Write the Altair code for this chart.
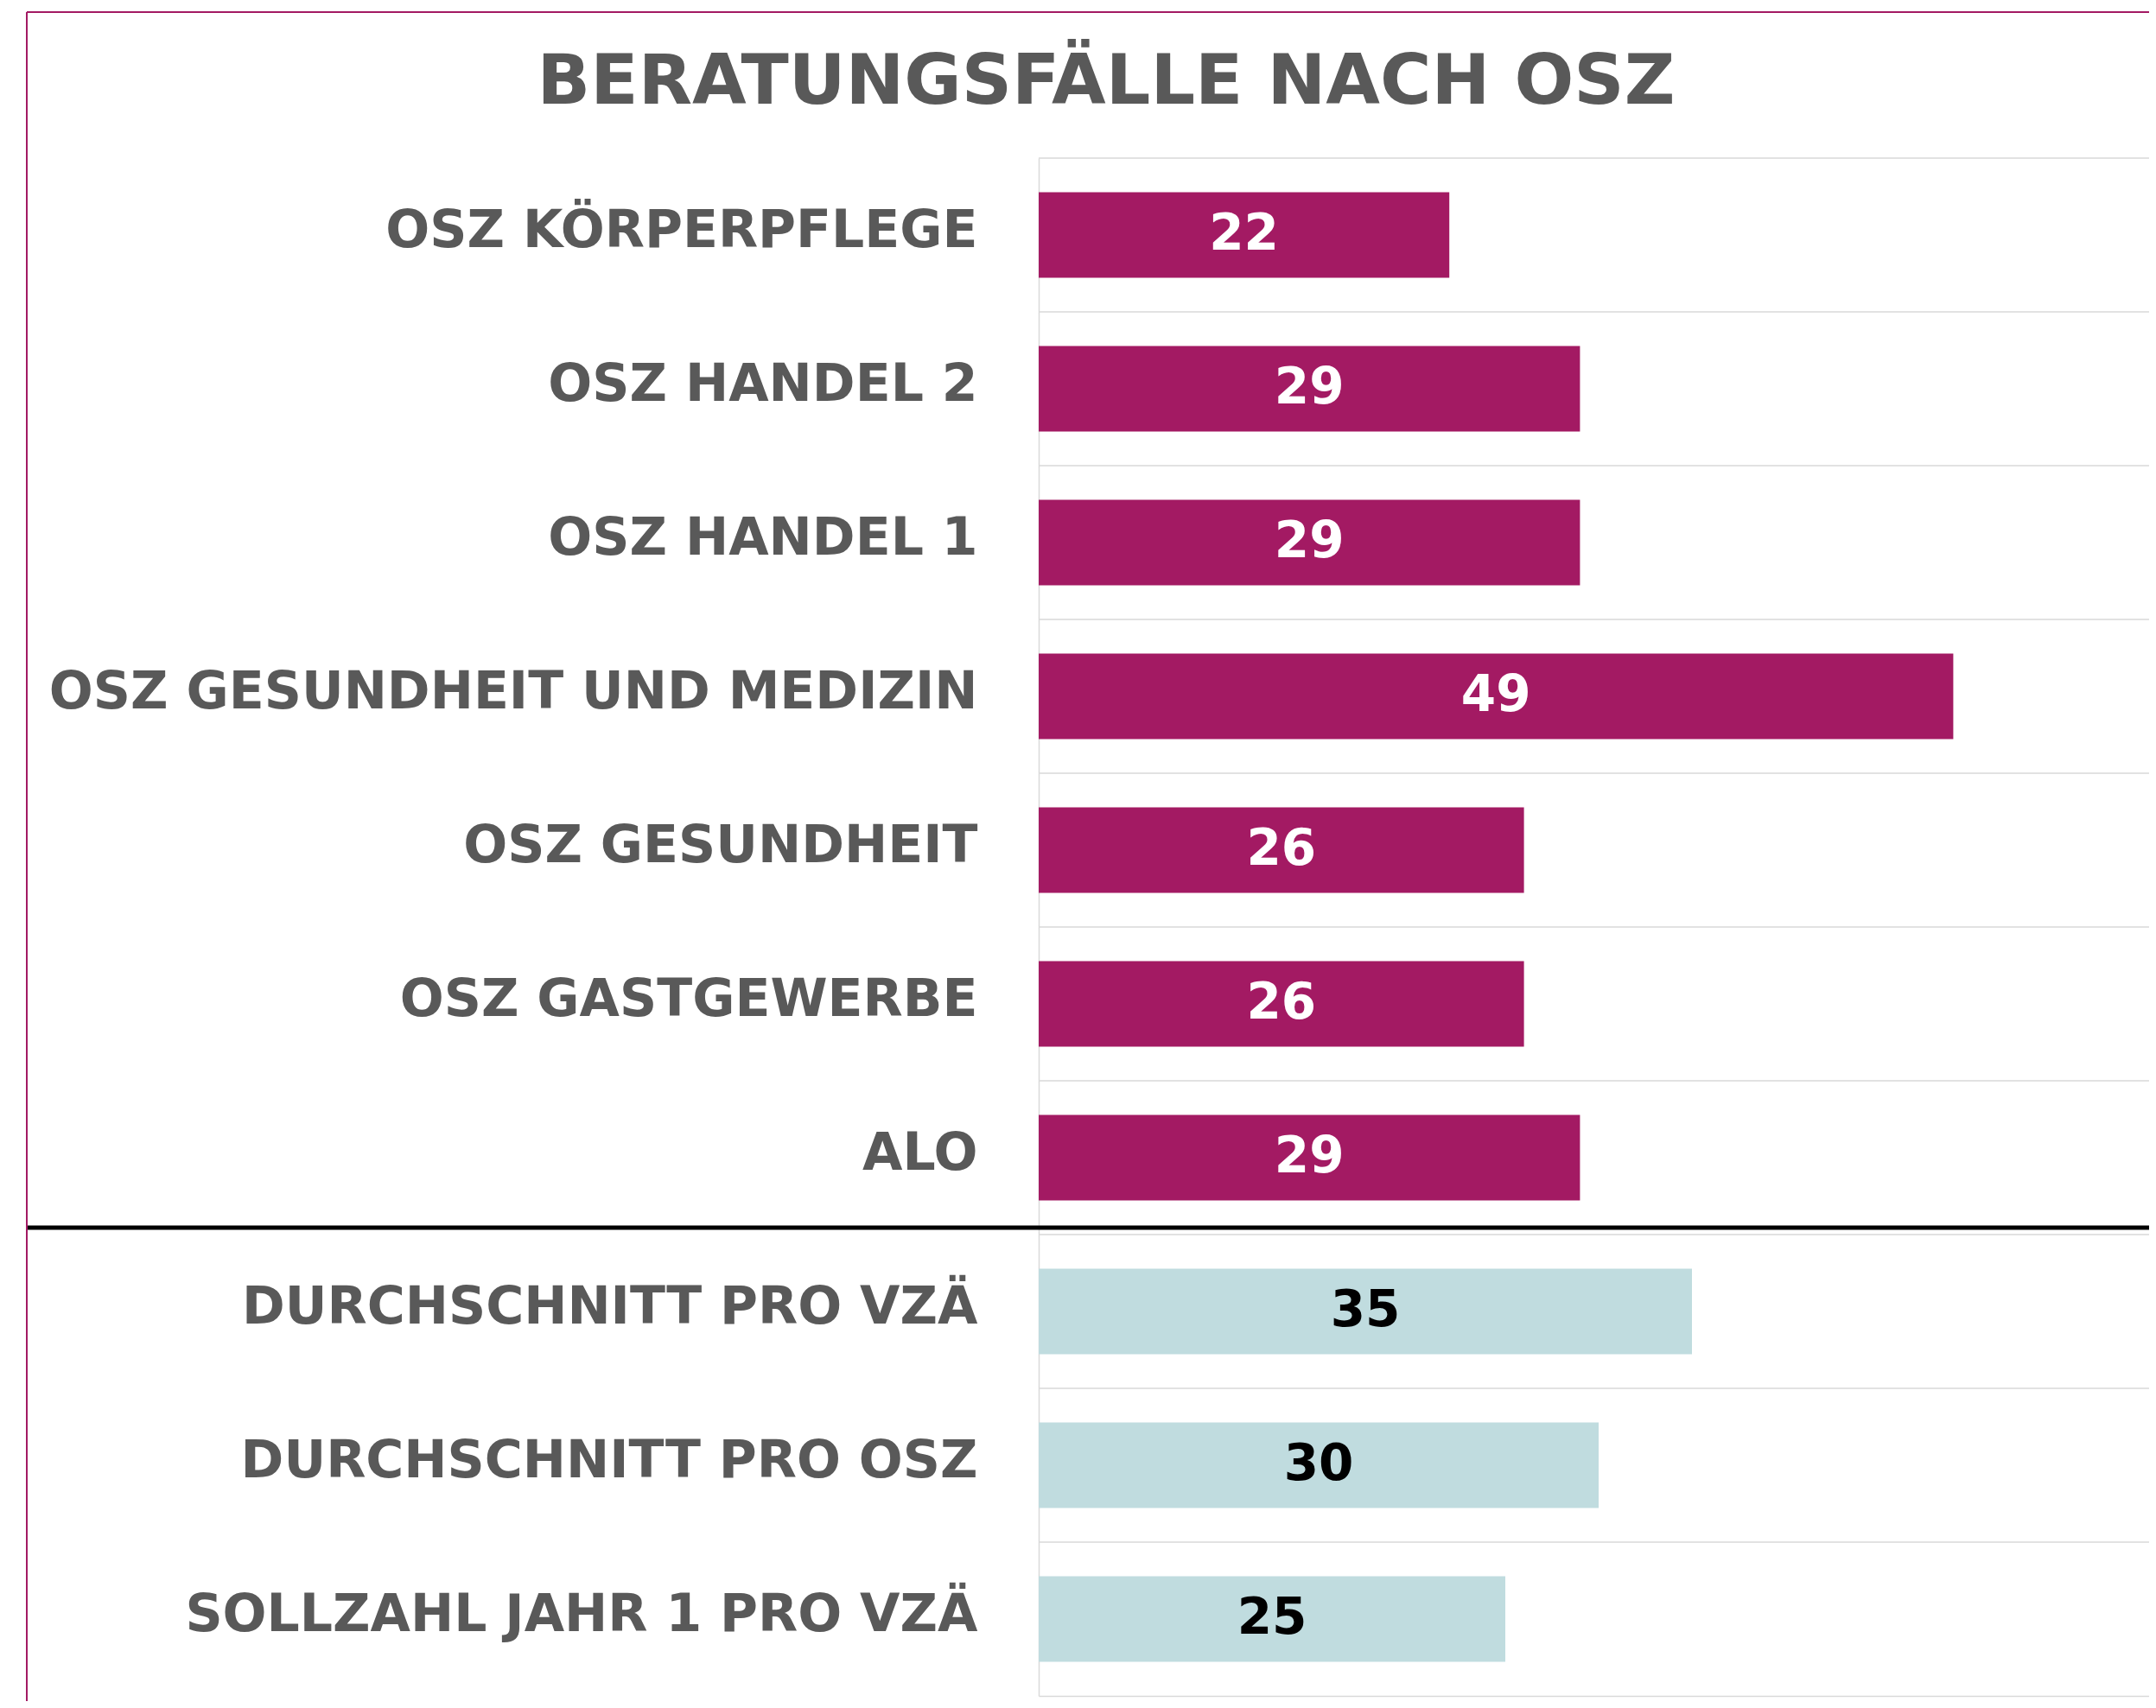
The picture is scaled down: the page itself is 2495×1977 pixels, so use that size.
import altair as alt
import pandas as pd

categories = [
    "OSZ KÖRPERPFLEGE",
    "OSZ HANDEL 2",
    "OSZ HANDEL 1",
    "OSZ GESUNDHEIT UND MEDIZIN",
    "OSZ GESUNDHEIT",
    "OSZ GASTGEWERBE",
    "ALO",
    "DURCHSCHNITT PRO VZÄ",
    "DURCHSCHNITT PRO OSZ",
    "SOLLZAHL JAHR 1 PRO VZÄ",
]
values = [22, 29, 29, 49, 26, 26, 29, 35, 30, 25]
groups = ["Schule"] * 7 + ["Vergleich"] * 3
title_text = "BERATUNGSFÄLLE NACH OSZ"

df = pd.DataFrame({"kategorie": categories, "wert": values, "gruppe": groups})
one = pd.DataFrame({"a": [0]})

W = 1285
H = 1780
STEP = H / len(categories)
PAD_L = 1194
PAD_T = 175
FONT = "DejaVu Sans"
MAGENTA = "#A31A63"
LIGHT = "#C0DCDF"
GREY = "#595959"
GRID = "#D9D9D9"
XMAX = W / 21.6

y_enc = alt.Y(
    "kategorie:N",
    sort=categories,
    title=None,
    scale=alt.Scale(paddingInner=0.444, paddingOuter=0.222),
    axis=alt.Axis(
        labelFontSize=60,
        labelFont=FONT,
        labelFontWeight="bold",
        labelColor=GREY,
        labelPadding=71,
        labelLimit=3000,
        labelOffset=-4,
        ticks=False,
        domainColor=GRID,
        domainWidth=1.5,
        grid=False,
    ),
)
x_axis = alt.Axis(labels=False, ticks=False, grid=False, title=None,
                  domainColor=GRID, domainWidth=1.5)

grid = alt.Chart(df).mark_rule(color=GRID, strokeWidth=1.5, yOffset=-STEP / 2).encode(
    y=alt.Y("kategorie:N", sort=categories),
    x=alt.value(0),
    x2=alt.value(W),
)

bars = alt.Chart(df).mark_bar().encode(
    y=y_enc,
    x=alt.X("wert:Q", scale=alt.Scale(domain=[0, XMAX], nice=False, zero=True), axis=x_axis),
    color=alt.Color("gruppe:N", scale=alt.Scale(domain=["Schule", "Vergleich"], range=[MAGENTA, LIGHT]), legend=None),
)

labels = alt.Chart(df).transform_calculate(mitte="datum.wert / 2").mark_text(
    font=FONT, fontSize=58, fontWeight="bold", align="center", baseline="middle"
).encode(
    y=alt.Y("kategorie:N", sort=categories),
    x=alt.X("mitte:Q"),
    text=alt.Text("wert:Q"),
    color=alt.condition(alt.datum.gruppe == "Schule", alt.value("white"), alt.value("black")),
)

left_border = alt.Chart(one).mark_rule(color=MAGENTA, strokeWidth=2).encode(
    x=alt.value(-1171), y=alt.value(-169), y2=alt.value(H + 6)
)
top_border = alt.Chart(one).mark_rule(color=MAGENTA, strokeWidth=2).encode(
    x=alt.value(-1171), x2=alt.value(W + 20), y=alt.value(-169)
)
separator = alt.Chart(one).mark_rule(color="black", strokeWidth=5).encode(
    x=alt.value(-1171), x2=alt.value(W + 20), y=alt.value(7 * STEP - 8)
)
title = alt.Chart(one).mark_text(
    text=title_text, font=FONT, fontSize=81, fontWeight="bold", color=GREY,
    align="center", baseline="alphabetic"
).encode(x=alt.value(78), y=alt.value(-63))

chart = alt.layer(grid, bars, labels, separator, left_border, top_border, title).properties(
    width=W,
    height=H,
    autosize=alt.AutoSizeParams(type="none"),
    padding={"left": PAD_L, "top": PAD_T, "right": 0, "bottom": 6},
    background="white",
).configure_view(stroke=None)

chart.save("out.html", embed_options={"renderer": "svg", "actions": False})
